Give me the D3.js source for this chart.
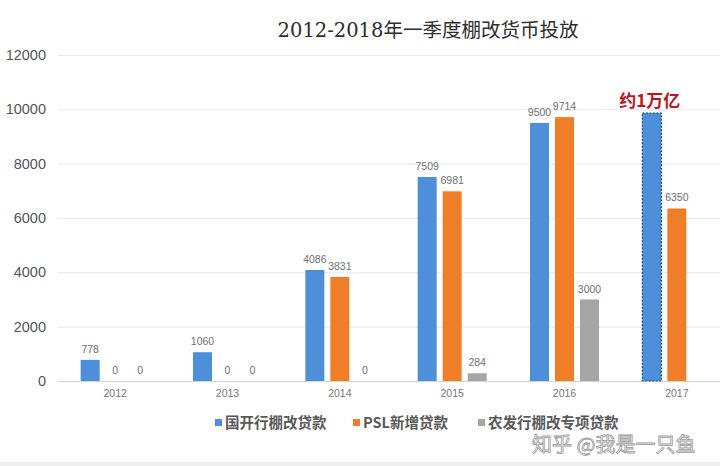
<!DOCTYPE html>
<html><head><meta charset="utf-8">
<script src="https://cdn.jsdelivr.net/npm/d3@7"></script>
<style>body{margin:0;background:#fff;}svg{display:block;}</style>
</head><body>
<svg id="c" width="720" height="466"></svg>
<script>
const years = ["2012","2013","2014","2015","2016","2017"];
const seriesNames = ["国开行棚改贷款","PSL新增贷款","农发行棚改专项贷款"];
const cdb = [778, 1060, 4086, 7509, 9500, 9860];
const psl = [0, 0, 3831, 6981, 9714, 6350];
const adbc = [0, 0, 0, 284, 3000, null];
const yTicks = [0, 2000, 4000, 6000, 8000, 10000, 12000];
const colors = ["#4d8fd8", "#f07e28", "#a5a5a5"];
const titleText = "2012-2018年一季度棚改货币投放";
const noteText = "约1万亿";
const watermark = "知乎 @我是一只鱼";

const svg = d3.select("#c");
const fontNum = "'Liberation Sans', Arial, sans-serif";
const fontCJK = "'Noto Sans CJK SC', 'Liberation Sans', sans-serif";

const x0 = d3.scaleBand().domain(years).range([59, 733]).paddingInner(0.386).paddingOuter(0.193);
const x1 = d3.scaleBand().domain([0,1,2]).range([0, x0.bandwidth()]).paddingInner(0.24).paddingOuter(0);
const y = d3.scaleLinear().domain([0, 12000]).range([381, 55]);

// title
svg.append("text").attr("x", 428).attr("y", 37).attr("text-anchor", "middle")
  .attr("font-family", "'DejaVu Serif', 'Noto Sans CJK SC', serif").attr("font-size", 19.5)
  .attr("fill", "#2e2e2e").text(titleText);

// grid
const yAxis = d3.axisLeft(y).tickValues(yTicks).tickSize(0).tickPadding(12).tickFormat(d3.format("d"));
const gy = svg.append("g").attr("transform", "translate(58,0)").call(yAxis);
gy.select(".domain").remove();
gy.selectAll("text").attr("font-family", fontNum).attr("font-size", 14.5).attr("fill", "#555");
svg.append("g").selectAll("line").data(yTicks).join("line")
  .attr("x1", 58).attr("x2", 720).attr("y1", d => y(d) + 0.5).attr("y2", d => y(d) + 0.5)
  .attr("stroke", d => d === 0 ? "#d4d4d4" : "#e8e8e8").attr("stroke-width", 1);

// x axis labels
const xAxis = d3.axisBottom(x0).tickSize(0).tickPadding(9);
const gx = svg.append("g").attr("transform", "translate(0,381)").call(xAxis);
gx.select(".domain").remove();
gx.selectAll("text").attr("font-family", fontNum).attr("font-size", 10.5).attr("fill", "#777");

// bars
const allSeries = [cdb, psl, adbc];
const data = [];
years.forEach((yr, i) => {
  allSeries.forEach((s, j) => { if (s[i] !== null) data.push({yr, j, v: s[i]}); });
});
const bars = svg.append("g");
bars.selectAll("rect").data(data).join("rect")
  .attr("x", d => x0(d.yr) + x1(d.j))
  .attr("width", x1.bandwidth())
  .attr("y", d => y(d.v))
  .attr("height", d => y(0) - y(d.v))
  .attr("fill", d => colors[d.j])
  .attr("stroke", d => (d.yr === "2017" && d.j === 0) ? "#1f4b7a" : "none")
  .attr("stroke-width", 1.2)
  .attr("stroke-dasharray", "2,1.5");

// value labels
svg.append("g").selectAll("text").data(data.filter(d => !(d.yr === "2017" && d.j === 0))).join("text")
  .attr("x", d => x0(d.yr) + x1(d.j) + x1.bandwidth() / 2)
  .attr("y", d => y(d.v) - 7)
  .attr("text-anchor", "middle")
  .attr("font-family", fontNum).attr("font-size", 10.5).attr("fill", "#707070")
  .text(d => d.v);

// note
svg.append("text")
  .attr("x", x0("2017") + x1(0) + x1.bandwidth() / 2 - 2)
  .attr("y", y(cdb[5]) - 6)
  .attr("text-anchor", "middle")
  .attr("font-family", fontCJK).attr("font-size", 17).attr("font-weight", "bold")
  .attr("fill", "#c0141c").text(noteText);

// legend
const legX = [215, 353, 478];
const lg = svg.append("g");
seriesNames.forEach((n, i) => {
  lg.append("rect").attr("x", legX[i]).attr("y", 419).attr("width", 7).attr("height", 7).attr("fill", colors[i]);
  lg.append("text").attr("x", legX[i] + 10).attr("y", 428)
    .attr("font-family", fontCJK).attr("font-size", 14.5).attr("font-weight", "bold")
    .attr("fill", "#595959").text(n);
});

// watermark
svg.append("text").attr("x", 532).attr("y", 452)
  .attr("font-family", fontCJK).attr("font-size", 20)
  .attr("fill", "#ffffff").attr("fill-opacity", 0.85)
  .attr("stroke", "#9a9a9a").attr("stroke-width", 0.8)
  .text(watermark);

// bottom band
svg.append("rect").attr("x", 0).attr("y", 462).attr("width", 720).attr("height", 4).attr("fill", "#eeeeee");
</script>
</body></html>
